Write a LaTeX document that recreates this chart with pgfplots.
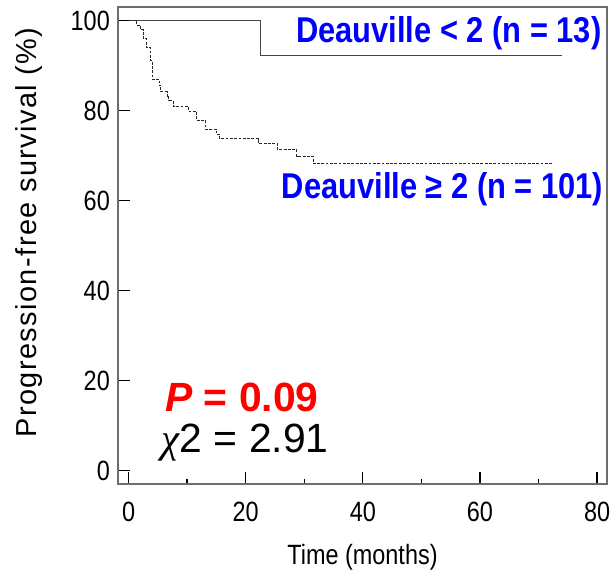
\documentclass[border=0pt]{standalone}
\usepackage{fontspec}
\setmainfont{Liberation Sans}
\newfontfamily\narrowfont[FakeStretch=0.84]{Liberation Sans}
\newfontfamily\labelfont[FakeStretch=0.86]{Liberation Sans}
\newfontfamily\spacedfont[LetterSpace=5.0]{Liberation Sans}
\newfontfamily\greekfont{Liberation Serif}
\usepackage{pgfplots}
\usepackage{pgfplotstable}
\pgfplotsset{compat=1.18}

\definecolor{dvblue}{RGB}{0,0,255}
\definecolor{pred}{RGB}{255,0,0}
\definecolor{framegray}{RGB}{110,110,110}

% Deauville < 2 (n = 13)
\pgfplotstableread{
t s
0 100
22.5 92.3
74 92.3
}\lowgroup

% Deauville >= 2 (n = 101)
\pgfplotstableread{
t s
0 100
1.4 99.0
2.0 98.0
2.5 96.0
3.0 94.1
3.7 91.1
4.0 87.0
5.2 85.7
5.5 84.2
6.6 83.2
6.9 82.2
7.6 81.0
10.2 79.9
11.6 77.9
13.1 75.9
15.0 74.8
15.5 73.8
22.2 72.7
25.4 71.4
28.7 69.9
31.5 68.3
72.5 68.3
}\highgroup

\begin{document}
\begin{tikzpicture}
\begin{axis}[
  scale only axis, width=489bp, height=477bp,
  xmin=-1.8, xmax=81.7, ymin=-3, ymax=103.05,
  xtick={0,20,...,80}, ytick={0,20,...,100},
  minor xtick={10,30,50,70},
  xtick pos=lower, ytick pos=left,
  tick align=inside,
  major tick length=12bp, minor tick length=5bp,
  axis line style={framegray, line width=1.6bp},
  every tick/.style={black, line width=1.3bp},
  tick label style={font=\narrowfont\fontsize{28}{28}\selectfont, inner sep=0pt},
  /pgf/number format/assume math mode=true,
  xticklabel style={yshift=-18bp},
  yticklabel style={xshift=-8bp},
  xlabel={Time (months)},
  xlabel style={at={(axis description cs:0.5,-0.1268)}, anchor=north, inner sep=0pt,
    font=\narrowfont\fontsize{28}{28}\selectfont},
  ylabel={Progression-free survival (\%)},
  ylabel style={at={(axis description cs:-0.2106,0.5273)}, anchor=north, inner sep=0pt,
    font=\spacedfont\fontsize{29}{29}\selectfont},
  clip=false,
]
\addplot[const plot, color=gray!55!black, line width=1.5bp] table[x=t,y=s]{\lowgroup};
\addplot[const plot, black!85, line width=0.9bp, dash pattern=on 2.8bp off 1.5bp] table[x=t,y=s]{\highgroup};

\node[anchor=base east, inner sep=0pt, text=dvblue,
  font=\labelfont\bfseries\fontsize{36}{36}\selectfont]
  at (axis description cs:0.989,0.9252) {Deauville < 2 (n = 13)};
\node[anchor=base east, inner sep=0pt, text=dvblue,
  font=\labelfont\bfseries\fontsize{36}{36}\selectfont]
  at (axis description cs:0.9925,0.599) {Deauville ≥ 2 (n = 101)};
\node[anchor=base west, inner sep=0pt, text=pred,
  font=\bfseries\fontsize{41}{41}\selectfont]
  at (axis description cs:0.0961,0.1516) {\textit{P} = 0.09};
\node[anchor=base west, inner sep=0pt,
  font=\fontsize{41}{41}\selectfont]
  at (axis description cs:0.0894,0.065) {{\greekfont\itshape χ}2 = 2.91};
\end{axis}
\pgfresetboundingbox
\path (-118bp,-91bp) rectangle (497bp,484bp);
\end{tikzpicture}
\end{document}
